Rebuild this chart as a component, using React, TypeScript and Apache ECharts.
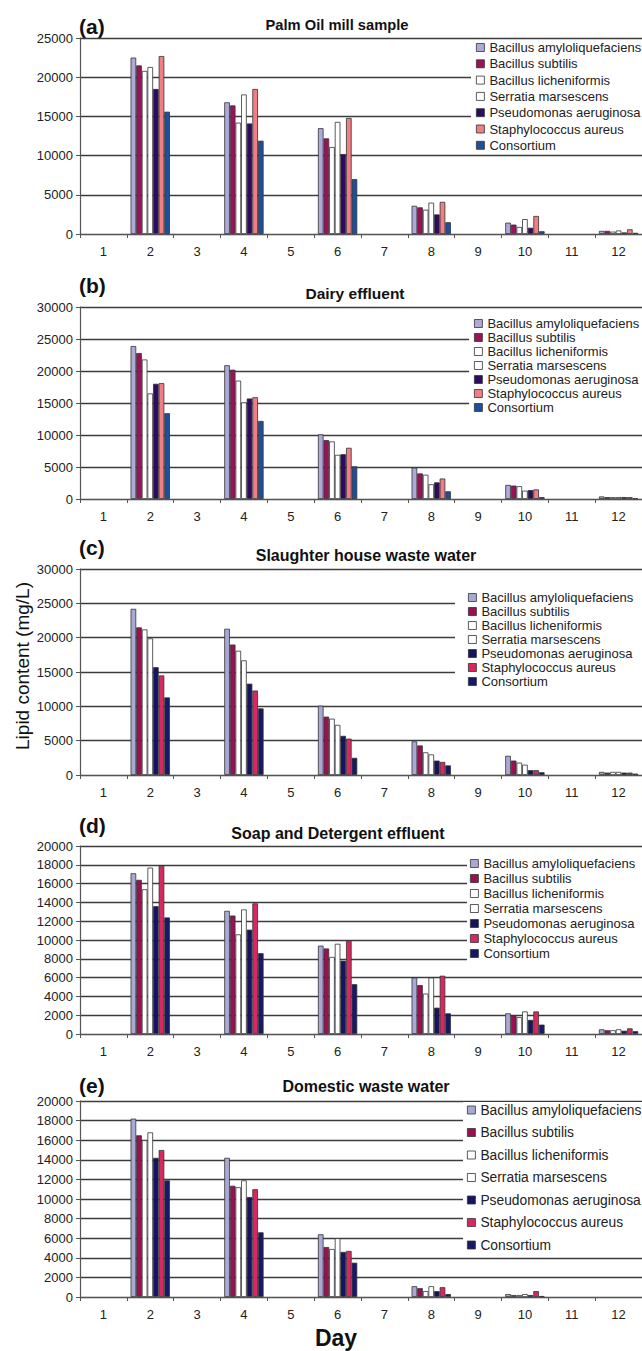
import { useEffect, useRef } from 'react';
import * as echarts from 'echarts';

const days = ['1', '2', '3', '4', '5', '6', '7', '8', '9', '10', '11', '12'];
const species = [
  'Bacillus amyloliquefaciens',
  'Bacillus subtilis',
  'Bacillus licheniformis',
  'Serratia marsescens',
  'Pseudomonas aeruginosa',
  'Staphylococcus aureus',
  'Consortium',
];

const n = null;
// rows follow `species`, columns follow `days`
const palmOil = [
  [n, 22500, n, 16800, n, 13500, n, 3600, n, 1450, n, 400],
  [n, 21500, n, 16400, n, 12200, n, 3400, n, 1200, n, 400],
  [n, 20800, n, 14200, n, 11100, n, 3100, n, 900, n, 300],
  [n, 21300, n, 17800, n, 14300, n, 4000, n, 1900, n, 450],
  [n, 18500, n, 14100, n, 10200, n, 2500, n, 800, n, 200],
  [n, 22700, n, 18500, n, 14800, n, 4100, n, 2300, n, 600],
  [n, 15600, n, 11900, n, 7000, n, 1500, n, 350, n, 150],
];
const dairy = [
  [n, 23900, n, 20900, n, 10100, n, 4900, n, 2200, n, 400],
  [n, 22800, n, 20200, n, 9200, n, 4000, n, 2100, n, 300],
  [n, 21800, n, 18500, n, 9000, n, 3800, n, 2000, n, 300],
  [n, 16500, n, 15100, n, 6900, n, 2300, n, 1300, n, 300],
  [n, 18000, n, 15700, n, 7000, n, 2600, n, 1400, n, 300],
  [n, 18100, n, 15900, n, 8000, n, 3200, n, 1500, n, 300],
  [n, 13400, n, 12200, n, 5100, n, 1200, n, 300, n, 100],
];
const slaughter = [
  [n, 24200, n, 21300, n, 10100, n, 4900, n, 2800, n, 450],
  [n, 21500, n, 19000, n, 8500, n, 4300, n, 2100, n, 350],
  [n, 21200, n, 18100, n, 8200, n, 3300, n, 1800, n, 450],
  [n, 19900, n, 16700, n, 7300, n, 3000, n, 1500, n, 450],
  [n, 15700, n, 13300, n, 5700, n, 2100, n, 700, n, 350],
  [n, 14500, n, 12300, n, 5300, n, 1900, n, 700, n, 350],
  [n, 11300, n, 9700, n, 2500, n, 1400, n, 400, n, 200],
];
const soap = [
  [n, 17100, n, 13100, n, 9400, n, 6000, n, 2200, n, 500],
  [n, 16400, n, 12600, n, 9100, n, 5200, n, 2000, n, 400],
  [n, 15400, n, 10600, n, 8200, n, 4300, n, 1800, n, 400],
  [n, 17700, n, 13250, n, 9600, n, 6000, n, 2400, n, 500],
  [n, 13600, n, 11100, n, 7800, n, 2800, n, 1500, n, 350],
  [n, 17900, n, 13900, n, 9900, n, 6200, n, 2400, n, 600],
  [n, 12400, n, 8600, n, 5300, n, 2200, n, 1000, n, 300],
];
const domestic = [
  [n, 18200, n, 14200, n, 6400, n, 1100, n, 300, n, n],
  [n, 16500, n, 11350, n, 5100, n, 900, n, 200, n, n],
  [n, 16000, n, 11200, n, 4900, n, 600, n, 200, n, n],
  [n, 16800, n, 11900, n, 6000, n, 1100, n, 300, n, n],
  [n, 14200, n, 10200, n, 4600, n, 600, n, 200, n, n],
  [n, 15000, n, 11000, n, 4700, n, 1000, n, 600, n, n],
  [n, 11900, n, 6600, n, 3500, n, 300, n, 100, n, n],
];

const colorsAB = ['#ABAAD8', '#9B1259', '#FFFFFF', '#FFFFFF', '#2E0B5E', '#F07E82', '#1E4F9A'];
const colorsCDE = ['#A9A9D6', '#9A1052', '#FFFFFF', '#FFFFFF', '#15145E', '#D8285F', '#161868'];

const FONT = '"Liberation Sans", Arial, Helvetica, sans-serif';

const panels = [
  { key: 'a', label: '(a)', title: 'Palm Oil mill sample', values: palmOil, max: 25000, interval: 5000, colors: colorsAB,
    top: 38, height: 196, labelY: 26, titleX: 337, titleY: 25, titleSize: 14.7,
    legendLeft: 471, legendTop: 40, legendGap: 3.3, legendFont: 13, legendPadLeft: 5 },
  { key: 'b', label: '(b)', title: 'Dairy effluent', values: dairy, max: 30000, interval: 5000, colors: colorsAB,
    top: 307, height: 192, labelY: 285, titleX: 355, titleY: 293, titleSize: 15.5,
    legendLeft: 469, legendTop: 316, legendGap: 1, legendFont: 13, legendPadLeft: 5 },
  { key: 'c', label: '(c)', title: 'Slaughter house waste water', values: slaughter, max: 30000, interval: 5000, colors: colorsCDE,
    top: 569, height: 206, labelY: 547, titleX: 366, titleY: 555, titleSize: 16,
    legendLeft: 455, legendTop: 590, legendGap: 1, legendFont: 13, legendPadLeft: 13 },
  { key: 'd', label: '(d)', title: 'Soap and Detergent effluent', values: soap, max: 20000, interval: 2000, colors: colorsCDE,
    top: 846, height: 188, labelY: 825, titleX: 338, titleY: 833, titleSize: 16,
    legendLeft: 467, legendTop: 856, legendGap: 2, legendFont: 13, legendPadLeft: 3 },
  { key: 'e', label: '(e)', title: 'Domestic waste water', values: domestic, max: 20000, interval: 2000, colors: colorsCDE,
    top: 1101, height: 196, labelY: 1085, titleX: 366, titleY: 1086, titleSize: 16,
    legendLeft: 463, legendTop: 1102, legendGap: 8.5, legendFont: 13.8, legendPadLeft: 4 },
];

export default function App() {
  const ref = useRef<HTMLDivElement>(null);

  useEffect(() => {
    document.body.style.margin = '0';
    if (!ref.current) return;
    const chart = echarts.init(ref.current, undefined, { renderer: 'svg' });

    const grid: any[] = [];
    const xAxis: any[] = [];
    const yAxis: any[] = [];
    const series: any[] = [];
    const legend: any[] = [];
    const graphic: any[] = [];

    panels.forEach((p, i) => {
      grid.push({ left: 80, width: 563, top: p.top, height: p.height, containLabel: false });
      xAxis.push({
        type: 'category', gridIndex: i, data: days,
        axisLine: { show: true, lineStyle: { color: '#555', width: 1.2 } },
        axisTick: { show: true, length: 4, lineStyle: { color: '#555' } },
        axisLabel: { fontSize: 13, color: '#222', fontFamily: FONT, margin: 11 },
        splitLine: { show: false },
      });
      yAxis.push({
        type: 'value', gridIndex: i, min: 0, max: p.max, interval: p.interval,
        axisLine: { show: true, lineStyle: { color: '#555', width: 1.2 } },
        axisTick: { show: true, length: 4, lineStyle: { color: '#555' } },
        axisLabel: { fontSize: 13, color: '#222', fontFamily: FONT, margin: 7, formatter: (v: number) => String(v) },
        splitLine: { show: true, lineStyle: { color: '#3c3c3c', width: 1.4 } },
      });
      species.forEach((s, j) => {
        series.push({
          type: 'bar',
          name: `${p.key}|${s}`,
          xAxisIndex: i, yAxisIndex: i,
          data: p.values[j],
          barGap: '0%',
          barCategoryGap: '16%',
          itemStyle: { color: p.colors[j], borderColor: '#333', borderWidth: 0.8 },
          emphasis: { disabled: true },
        });
      });
      legend.push({
        orient: 'vertical',
        left: p.legendLeft, top: p.legendTop,
        data: species.map((s) => `${p.key}|${s}`),
        formatter: (name: string) => name.split('|')[1],
        icon: 'rect',
        itemWidth: 8, itemHeight: 8, itemGap: p.legendGap,
        itemStyle: { borderColor: '#333', borderWidth: 0.8 },
        textStyle: { fontSize: p.legendFont, color: '#222', fontFamily: FONT },
        backgroundColor: '#fff',
        padding: [1, 30, 1, p.legendPadLeft],
        selectedMode: false,
        z: 5,
      });
      graphic.push({
        type: 'text', x: 79, y: p.labelY,
        style: { text: p.label, fontSize: 21, fontWeight: 'bold', fontFamily: FONT, fill: '#111',
          textAlign: 'left', textVerticalAlign: 'middle', align: 'left', verticalAlign: 'middle' },
      });
      graphic.push({
        type: 'text', x: p.titleX, y: p.titleY,
        style: { text: p.title, fontSize: p.titleSize, fontWeight: 'bold', fontFamily: FONT, fill: '#111',
          textAlign: 'center', textVerticalAlign: 'middle', align: 'center', verticalAlign: 'middle' },
      });
    });

    graphic.push({
      type: 'text', x: 336, y: 1338,
      style: { text: 'Day', fontSize: 23, fontWeight: 'bold', fontFamily: FONT, fill: '#111',
        textAlign: 'center', textVerticalAlign: 'middle', align: 'center', verticalAlign: 'middle' },
    });
    graphic.push({
      type: 'text', x: 22, y: 666, rotation: Math.PI / 2,
      style: { text: 'Lipid content (mg/L)', fontSize: 19, fontFamily: FONT, fill: '#111',
        textAlign: 'center', textVerticalAlign: 'middle', align: 'center', verticalAlign: 'middle' },
    });

    chart.setOption({
      animation: false,
      backgroundColor: '#fff',
      grid, xAxis, yAxis, series, legend, graphic,
    });

    return () => chart.dispose();
  }, []);

  return <div ref={ref} style={{ width: 642, height: 1351 }} />;
}
